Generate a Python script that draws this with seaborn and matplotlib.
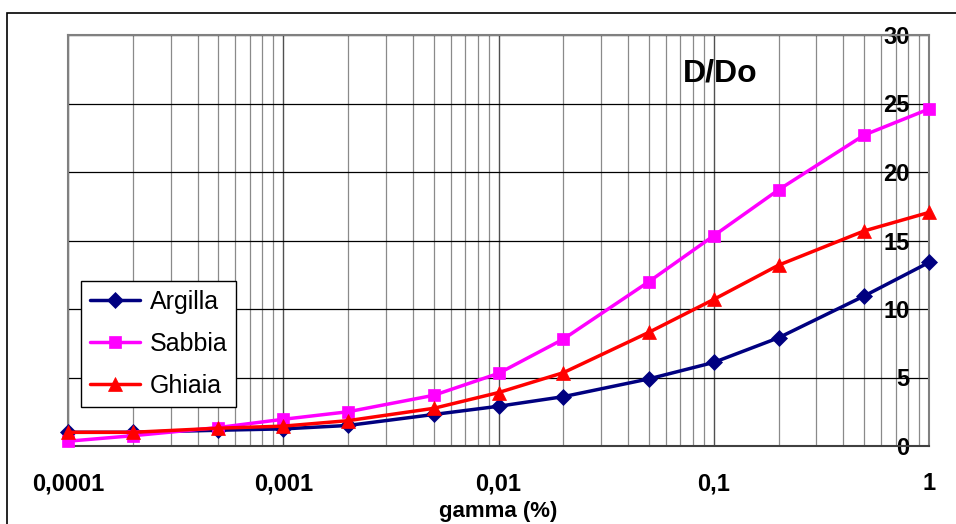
import matplotlib.pyplot as plt
import matplotlib.patches as patches
from matplotlib.ticker import LogLocator, NullFormatter
import seaborn as sns

# data
gamma = [0.0001, 0.0002, 0.0005, 0.001, 0.002, 0.005, 0.01, 0.02, 0.05, 0.1, 0.2, 0.5, 1]
argilla = [1.0, 1.0, 1.15, 1.25, 1.5, 2.3, 2.9, 3.6, 4.9, 6.1, 7.9, 10.95, 13.4]
sabbia = [0.35, 0.75, 1.35, 1.95, 2.5, 3.7, 5.3, 7.8, 12.0, 15.35, 18.7, 22.7, 24.6]
ghiaia = [1.0, 1.0, 1.3, 1.45, 1.85, 2.75, 3.9, 5.35, 8.3, 10.7, 13.2, 15.7, 17.05]

series_names = ['Argilla', 'Sabbia', 'Ghiaia']
series_colors = ['#000080', '#FF00FF', '#FF0000']
series_markers = ['D', 's', '^']
x_tick_vals = [0.0001, 0.001, 0.01, 0.1, 1]
x_tick_labels = ['0,0001', '0,001', '0,01', '0,1', '1']
y_tick_vals = [0, 5, 10, 15, 20, 25, 30]

sns.set_style('white')
plt.rcParams['font.family'] = ['Liberation Sans', 'DejaVu Sans']
plt.rcParams['text.color'] = 'black'
plt.rcParams['xtick.color'] = 'black'
plt.rcParams['ytick.color'] = 'black'
plt.rcParams['axes.labelcolor'] = 'black'

fig = plt.figure(figsize=(9.56, 5.24), dpi=100)
ax = fig.add_axes([68 / 956, 1 - 446 / 524, (929 - 68) / 956, (446 - 35) / 524])

marker_sizes = [8.5, 8.5, 9.5]
for name, vals, col, mk, ms in zip(series_names, [argilla, sabbia, ghiaia],
                                   series_colors, series_markers, marker_sizes):
    sns.lineplot(x=gamma, y=vals, ax=ax, color=col, marker=mk, markersize=ms,
                 markeredgecolor=col, markeredgewidth=0.5, linewidth=2.5,
                 label=name, clip_on=False, zorder=5)

ax.set_xscale('log')
ax.set_xlim(1e-4, 1)
ax.set_ylim(0, 30)

# grid
ax.xaxis.set_minor_locator(LogLocator(base=10, subs=range(2, 10), numticks=20))
ax.xaxis.set_minor_formatter(NullFormatter())
ax.grid(which='major', axis='y', color='black', linewidth=0.9)
ax.grid(which='major', axis='x', color='#505050', linewidth=1.0)
ax.grid(which='minor', axis='x', color='#8a8a8a', linewidth=0.9)
ax.set_axisbelow(True)

# x axis
ax.set_xticks(x_tick_vals)
ax.set_xticklabels(x_tick_labels, fontsize=17, fontweight='bold')
ax.tick_params(axis='x', which='major', length=6, width=1, color='#404040', pad=13)
ax.tick_params(axis='x', which='minor', length=0)
ax.set_xlabel('gamma (%)', fontsize=16, fontweight='bold', labelpad=4)

# y axis: labels on the right, drawn inside the plot
ax.yaxis.tick_right()
ax.set_yticks(y_tick_vals)
ax.set_yticklabels([str(v) for v in y_tick_vals], fontsize=17, fontweight='bold')
ax.tick_params(axis='y', length=0, pad=-14)
for lbl in ax.get_yticklabels():
    lbl.set_ha('right')
ax.set_ylabel('')

for side in ['left', 'top', 'right']:
    ax.spines[side].set_color('#808080')
    ax.spines[side].set_linewidth(1.5)
ax.spines['bottom'].set_color('#404040')
ax.spines['bottom'].set_linewidth(1.5)

ax.text(0.757, 0.907, 'D/Do', transform=ax.transAxes, ha='center', va='center',
        fontsize=23, fontweight='bold')

leg = ax.legend(loc='lower left', bbox_to_anchor=(0.015, 0.095), borderaxespad=0,
                fontsize=18, frameon=True, fancybox=False, framealpha=1,
                edgecolor='black', handlelength=2.0, labelspacing=0.73,
                borderpad=0.35, handletextpad=0.4)
leg.get_frame().set_linewidth(1.0)

# outer chart frame
fig.patches.append(patches.Rectangle((7 / 956, -0.05), 1.0, 1 - 13 / 524 + 0.05,
                                     transform=fig.transFigure, fill=False,
                                     edgecolor='black', linewidth=1.2))

fig.savefig('out.png', dpi=100)
